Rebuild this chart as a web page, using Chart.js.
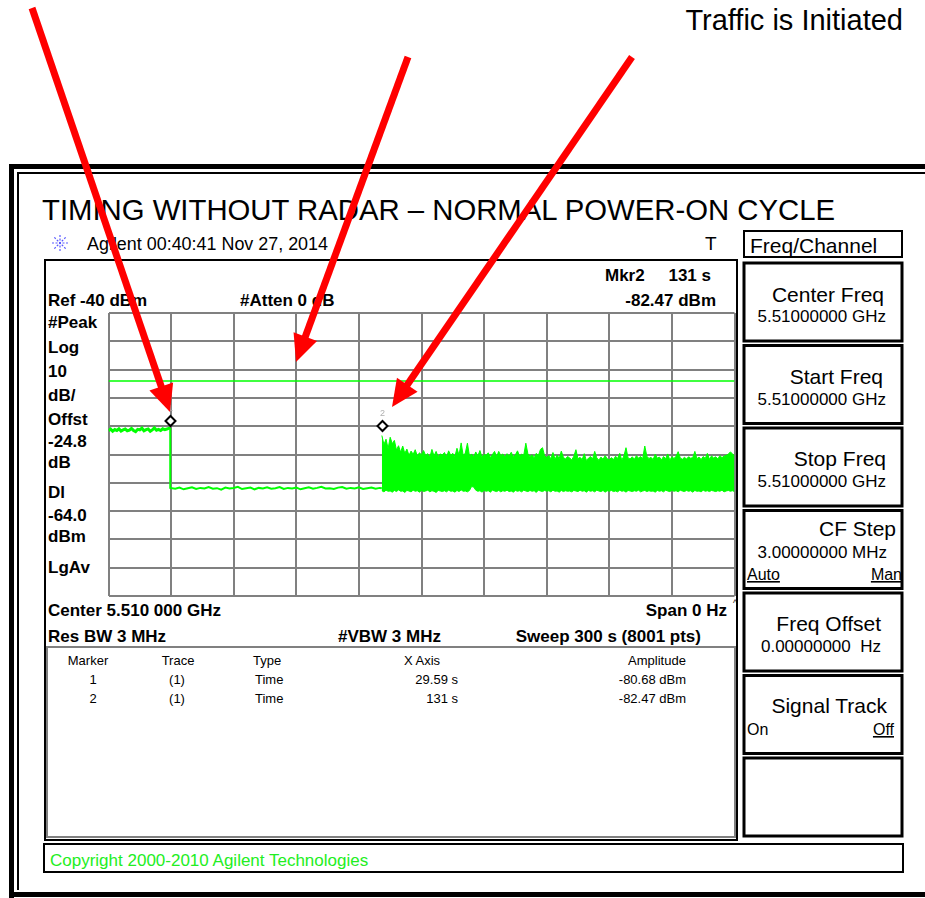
<!DOCTYPE html>
<html><head><meta charset="utf-8">
<script src="https://cdn.jsdelivr.net/npm/chart.js@4.4.1/dist/chart.umd.min.js"></script>
<style>
html,body{margin:0;padding:0;background:#fff;width:925px;height:898px;overflow:hidden;}
#bg,#fg{position:absolute;left:0;top:0;}
#fg{pointer-events:none;}
#plot{position:absolute;left:100px;top:305px;}
text{font-family:"Liberation Sans",Arial,sans-serif;fill:#000;}
.b{font-weight:bold;font-size:17px;}
.sk{font-size:21px;}
.sv{font-size:17px;}
.st{font-size:16px;}
.mt{font-size:13px;}
</style></head><body>
<svg id="bg" width="925" height="898"></svg>
<canvas id="plot" width="645" height="300"></canvas>
<svg id="fg" width="925" height="898"></svg>
<script>
// ---------------- data ----------------
const segATimes = [0,1,2,3,4,5,6,7,8,9,10,11,12,13,14,15,16,17,18,19,20,21,22,23,24,25,26,27,28,29,29.59];
const segAVals  = [-81.6,-81.0,-81.8,-81.2,-81.5,-80.9,-81.7,-81.3,-81.0,-81.6,-81.4,-80.8,-81.5,-81.9,-81.1,-81.3,-80.7,-81.6,-81.2,-81.0,-81.8,-81.3,-80.6,-81.4,-81.1,-81.5,-80.9,-81.2,-81.0,-80.7,-80.68];
const segBTimes = [29.59,32,34,36,38,40,42,44,46,48,50,52,54,56,58,60,62,64,66,68,70,72,74,76,78,80,82,84,86,88,90,92,94,96,98,100,102,104,106,108,110,112,114,116,118,120,122,124,126,128,130,131];
const segBVals  = [-101.8,-102.1,-101.7,-102.3,-101.9,-101.6,-102.2,-101.8,-102.0,-101.5,
  -102.1,-101.9,-102.4,-101.7,-102.0,-101.8,-101.4,-102.2,-101.9,-101.7,
  -102.3,-101.8,-102.0,-101.6,-102.1,-101.9,-101.5,-102.2,-101.8,-102.0,
  -101.7,-102.3,-101.9,-101.6,-102.1,-101.8,-101.4,-102.0,-101.9,-102.2,
  -101.7,-101.5,-102.1,-101.8,-102.0,-101.6,-102.2,-101.9,-101.7,-102.1,
  -101.8,-101.9];
// noise envelope after traffic starts, one value per second from 131 s to 300 s
const noiseStart = 131;
const noiseTop = [
  -83.3,-86.5,-84.6,-87.9,-83.9,-86.2,-85.0,-88.4,-86.9,-89.2,
  -87.0,-89.6,-88.1,-90.3,-88.8,-89.9,-88.3,-90.6,-89.4,-90.1,
  -88.6,-90.4,-89.7,-91.0,-88.2,-90.5,-88.9,-90.8,-89.8,-90.2,
  -89.3,-90.9,-88.7,-90.3,-89.6,-90.7,-87.8,-90.2,-85.9,-90.4,
  -89.5,-86.0,-90.6,-89.8,-90.9,-89.1,-90.5,-88.6,-91.0,-89.9,
  -90.3,-89.4,-91.1,-90.0,-88.9,-90.8,-88.9,-90.4,-89.8,-91.0,
  -89.7,-90.5,-89.2,-90.9,-90.1,-88.7,-90.6,-89.9,-90.3,-86.0,
  -89.8,-90.7,-90.1,-91.2,-89.6,-90.4,-88.2,-87.6,-90.5,-91.0,
  -90.4,-91.5,-89.3,-91.7,-90.2,-91.4,-88.8,-91.0,-91.6,-90.7,
  -91.2,-91.9,-90.6,-88.3,-91.5,-91.0,-91.8,-89.7,-92.1,-91.3,
  -90.7,-91.6,-88.9,-91.2,-92.0,-90.9,-91.7,-90.4,-91.5,-91.9,
  -91.1,-91.8,-90.6,-91.4,-89.6,-92.0,-90.5,-87.6,-91.2,-91.6,
  -90.8,-91.7,-90.4,-91.3,-90.7,-91.5,-87.0,-90.6,-91.4,-91.0,
  -91.8,-89.9,-91.3,-90.9,-91.9,-90.7,-91.5,-89.8,-92.0,-90.8,
  -91.4,-90.6,-89.0,-91.2,-91.7,-91.0,-91.6,-90.8,-91.3,-91.1,
  -88.9,-91.5,-90.9,-91.8,-90.7,-91.4,-89.6,-91.7,-90.5,-91.2,
  -90.8,-91.6,-90.4,-91.1,-90.6,-90.3,-89.9,-89.1,-89.7,-90.5];
const noiseBottom = [
  -102.8,-103.2,-102.6,-103.0,-102.9,-103.3,-102.7,-103.1,-102.5,-103.0,
  -102.9,-103.4,-102.7,-102.9,-103.2,-102.6,-103.0,-102.8,-103.3,-102.7,
  -103.1,-102.9,-102.6,-103.2,-102.8,-103.0,-103.4,-102.7,-102.9,-103.1,
  -102.8,-103.2,-102.6,-103.0,-102.9,-103.3,-102.7,-103.1,-102.5,-103.0,
  -102.9,-103.2,-102.7,-101.3,-101.5,-102.6,-103.0,-102.8,-103.3,-102.7,
  -103.0,-102.8,-103.3,-102.6,-102.9,-103.1,-102.7,-103.2,-102.8,-103.0,
  -102.6,-103.1,-102.9,-103.3,-102.7,-103.0,-102.8,-103.2,-102.6,-102.9,
  -103.1,-102.7,-103.0,-102.8,-103.4,-102.6,-102.9,-103.1,-102.7,-103.0,
  -102.8,-103.2,-102.6,-103.0,-102.9,-103.3,-102.7,-103.1,-102.8,-103.0,
  -102.9,-103.2,-102.7,-102.9,-103.1,-102.6,-103.0,-102.8,-103.3,-102.7,
  -103.0,-102.8,-103.2,-102.6,-102.9,-103.1,-102.7,-103.3,-102.8,-103.0,
  -102.7,-103.1,-102.9,-103.2,-102.6,-103.0,-102.8,-103.3,-102.7,-102.9,
  -103.1,-102.8,-103.0,-102.6,-103.2,-102.9,-102.7,-103.1,-102.8,-103.0,
  -102.9,-103.3,-102.7,-103.0,-102.8,-103.2,-102.6,-102.9,-103.1,-102.7,
  -103.0,-102.8,-103.2,-102.6,-102.9,-103.1,-102.7,-103.0,-102.8,-103.3,
  -102.7,-103.0,-102.9,-103.2,-102.6,-103.0,-102.8,-103.1,-102.7,-102.9,
  -103.1,-102.8,-103.0,-102.6,-103.2,-102.9,-102.7,-103.0,-102.8,-103.1];
const displayLine = -64.0;
const markerNames = ['1','2'];
const markerTimes = [29.59, 131];
const markerAmps  = [-80.68, -82.47];
const xTicks = [0,30,60,90,120,150,180,210,240,270,300];
const yTicks = [-140,-130,-120,-110,-100,-90,-80,-70,-60,-50,-40];

// ---------------- static screen ----------------
const NS='http://www.w3.org/2000/svg';
const bg=document.getElementById('bg');
function el(parent,tag,attrs,txt){const e=document.createElementNS(NS,tag);for(const k in attrs)e.setAttribute(k,attrs[k]);if(txt!==undefined)e.textContent=txt;parent.appendChild(e);return e;}
function rect(x,y,w,h,fill){return el(bg,'rect',{x,y,width:w,height:h,fill});}
function box(x,y,w,h,stroke,sw){return el(bg,'rect',{x,y,width:w,height:h,fill:'none',stroke,'stroke-width':sw});}
function txt(x,y,s,cls,anchor,extra){const a=Object.assign({x,y,'class':cls||''},extra||{});if(anchor)a['text-anchor']=anchor;return el(bg,'text',a,s);}

// document frame
rect(9,164,916,5,'#000'); rect(9,164,5,734,'#000'); rect(9,892,916,5,'#000');
rect(17,172,908,2,'#000'); rect(17,172,2,718,'#000');

txt(903,30,'Traffic is Initiated','', 'end',{'font-size':29});
txt(42,220,'TIMING WITHOUT RADAR \u2013 NORMAL POWER-ON CYCLE','',null,{'font-size':29,textLength:793,lengthAdjust:'spacingAndGlyphs'});

// agilent spark icon
for(let a=0;a<4;a++){const ang=a*Math.PI/4, r=8;
  el(bg,'line',{x1:60-r*Math.cos(ang),y1:243-r*Math.sin(ang),x2:60+r*Math.cos(ang),y2:243+r*Math.sin(ang),stroke:'#5a5aff','stroke-width':1.2,'stroke-dasharray':'2,1.5'});}
txt(87,250,'Agilent 00:40:41  Nov 27, 2014','',null,{'font-size':18,textLength:241,lengthAdjust:'spacingAndGlyphs'});
txt(705,250,'T','',null,{'font-size':19});

// display box
box(45,260,692,580,'#000',2);
txt(605,281,'Mkr'+markerNames[1],'b');
txt(711,281,markerTimes[1]+' s','b','end');
txt(48,306,'Ref -40 dBm','b');
txt(240,306,'#Atten 0 dB','b');
txt(716,306,markerAmps[1].toFixed(2)+' dBm','b','end');
const leftLabels=[['#Peak',328],['Log',353],['10',377],['dB/',401],['Offst',425],['-24.8',447],['dB',468],['Dl',498],['-64.0',521],['dBm',542],['LgAv',573]];
leftLabels.forEach(([s,y])=>txt(48,y,s,'b'));
txt(48,616,'Center 5.510 000 GHz','b');
txt(727,616,'Span 0 Hz','b','end');
txt(733,606,'^','',null,{'font-size':9});
txt(48,642,'Res BW 3 MHz','b');
txt(338,642,'#VBW 3 MHz','b');
txt(701,642,'Sweep 300 s (8001 pts)','b','end');

// marker table
box(47,647,688,190,'#808080',2);
txt(88,665,'Marker','mt','middle'); txt(178,665,'Trace','mt','middle'); txt(253,665,'Type','mt');
txt(422,665,'X Axis','mt','middle'); txt(657,665,'Amplitude','mt','middle');
markerNames.forEach((m,i)=>{const y=684+i*19;
  txt(93,y,m,'mt','middle'); txt(177,y,'(1)','mt','middle'); txt(255,y,'Time','mt');
  txt(458,y,markerTimes[i]+' s','mt','end'); txt(686,y,markerAmps[i].toFixed(2)+' dBm','mt','end');});

// softkeys
box(744,231,158,26,'#000',2);
txt(750,253,'Freq/Channel','sk');
for(let i=0;i<7;i++) box(744,263+i*82.5,158,78,'#000',3);
txt(884,302,'Center Freq','sk','end'); txt(886,322,'5.51000000 GHz','sv','end');
txt(883,384,'Start Freq','sk','end'); txt(886,405,'5.51000000 GHz','sv','end');
txt(886,466,'Stop Freq','sk','end'); txt(886,487,'5.51000000 GHz','sv','end');
txt(896,536,'CF Step','sk','end'); txt(887,558,'3.00000000 MHz','sv','end');
txt(747,580,'Auto','st',null,{'text-decoration':'underline'}); txt(902,580,'Man','st','end',{'text-decoration':'underline'});
txt(881,631,'Freq Offset','sk','end'); txt(881,652,'0.00000000\u00a0\u00a0Hz','sv','end');
txt(887,713,'Signal Track','sk','end');
txt(747,735,'On','st'); txt(894,735,'Off','st','end',{'text-decoration':'underline'});

// copyright
box(44,844,859,28,'#000',2);
txt(50,866,'Copyright 2000-2010 Agilent Technologies','',null,{'font-size':17,fill:'#22ee22',style:'fill:#22ee22'});

// ---------------- chart ----------------
const green='#00ff00';
const pts=(xs,ys)=>xs.map((x,i)=>({x,y:ys[i]}));
const noiseTimes=noiseTop.map((_,i)=>noiseStart+i);
const markerPlugin={id:'markers',afterDatasetsDraw(c){
  const ctx=c.ctx,xs=c.scales.x,ys=c.scales.y;
  markerTimes.forEach((t,i)=>{
    const px=Math.round(xs.getPixelForValue(t))+0.5, py=Math.round(ys.getPixelForValue(markerAmps[i]))-7;
    ctx.save();
    ctx.beginPath();ctx.moveTo(px,py-5);ctx.lineTo(px+5,py);ctx.lineTo(px,py+5);ctx.lineTo(px-5,py);ctx.closePath();
    ctx.fillStyle='#fff';ctx.fill();ctx.lineWidth=2;ctx.strokeStyle='#000';ctx.stroke();
    ctx.fillStyle='#b0b0b0';ctx.font='9px "Liberation Sans",Arial';ctx.textAlign='center';
    ctx.fillText(markerNames[i],px,py-10);
    ctx.restore();});
}};
const gridOpt={color:'#808080',lineWidth:2,drawTicks:false};
new Chart(document.getElementById('plot'),{
  type:'line',
  data:{datasets:[
    {label:'trace',data:pts(segATimes.concat(segBTimes),segAVals.concat(segBVals)),borderColor:green,borderWidth:2,pointRadius:0,fill:false,
      segment:{borderWidth:ctx=>ctx.p1DataIndex<segATimes.length?3:2}},
    {label:'noise peak',data:pts(noiseTimes,noiseTop),borderColor:green,borderWidth:1,pointRadius:0,fill:false},
    {label:'noise floor',data:pts(noiseTimes,noiseBottom),borderColor:green,borderWidth:1,pointRadius:0,fill:'-1',backgroundColor:green},
    {label:'display line',data:[{x:xTicks[0],y:displayLine},{x:xTicks[xTicks.length-1],y:displayLine}],borderColor:green,borderWidth:1.5,pointRadius:0,fill:false}
  ]},
  options:{
    responsive:false,animation:false,devicePixelRatio:1,
    layout:{padding:{left:8.5,right:10.5,top:8,bottom:9}},
    plugins:{legend:{display:false},tooltip:{enabled:false}},
    elements:{line:{tension:0}},
    scales:{
      x:{type:'linear',min:xTicks[0],max:xTicks[xTicks.length-1],ticks:{display:false,stepSize:xTicks[1]-xTicks[0]},grid:gridOpt,border:{display:false}},
      y:{type:'linear',min:yTicks[0],max:yTicks[yTicks.length-1],ticks:{display:false,stepSize:yTicks[1]-yTicks[0]},grid:gridOpt,border:{display:false}}
    }
  },
  plugins:[markerPlugin]
});

// ---------------- red annotation arrows ----------------
const fg=document.getElementById('fg');
const arrows=[{tail:[32,8],tip:[170,412]},{tail:[408,57],tip:[296,362]},{tail:[632,57],tip:[392,407]}];
arrows.forEach(a=>{
  const dx=a.tip[0]-a.tail[0],dy=a.tip[1]-a.tail[1],L=Math.hypot(dx,dy),ux=dx/L,uy=dy/L,nx=-uy,ny=ux;
  const hl=27,hw=12.5,bx=a.tip[0]-ux*hl,by=a.tip[1]-uy*hl;
  el(fg,'line',{x1:a.tail[0],y1:a.tail[1],x2:bx+ux*3,y2:by+uy*3,stroke:'#ff0000','stroke-width':7});
  el(fg,'polygon',{points:`${a.tip[0]},${a.tip[1]} ${bx+nx*hw},${by+ny*hw} ${bx-nx*hw},${by-ny*hw}`,fill:'#ff0000'});
});
</script>
</body></html>
